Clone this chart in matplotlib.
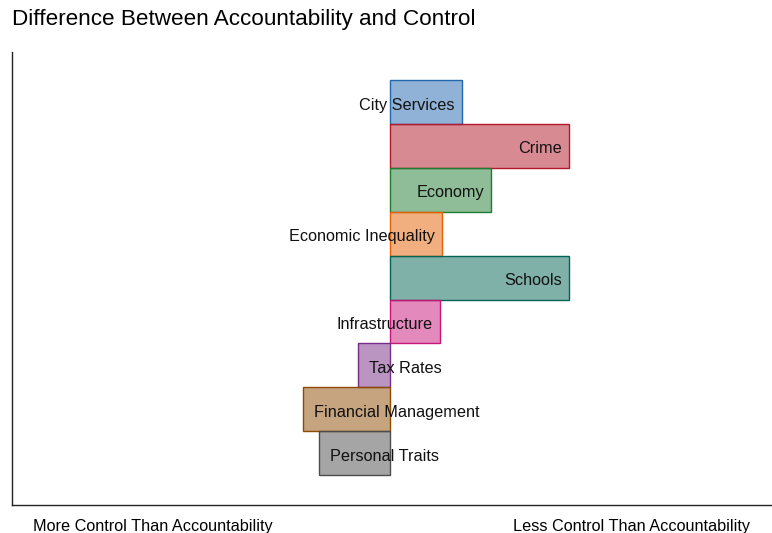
import matplotlib.pyplot as plt

# Data (1 unit = half the axis width)
topics = ['City Services', 'Crime', 'Economy', 'Economic Inequality', 'Schools',
          'Infrastructure', 'Tax Rates', 'Financial Management', 'Personal Traits']
difference = [0.19, 0.474, 0.267, 0.138, 0.474, 0.132, -0.085, -0.23, -0.188]
edge_colors = ['#2367AF', '#B31729', '#1F7D31', '#E56101', '#006555',
               '#C91579', '#772D87', '#8D4B00', '#4D4D4D']
left_label = 'More Control Than Accountability'
right_label = 'Less Control Than Accountability'
title = 'Difference Between Accountability and Control'


def main():
    plt.rcParams['font.family'] = ['Liberation Sans', 'DejaVu Sans']
    fig = plt.figure(figsize=(7.72, 5.33), dpi=100)
    ax = fig.add_axes([12 / 772, 28 / 533, 760 / 772, 453 / 533])

    ypos = list(range(len(topics)))
    for y, val, col in zip(ypos, difference, edge_colors):
        ax.barh(y, val, height=1.0, color=col, alpha=0.5, linewidth=0)
        ax.barh(y, val, height=1.0, facecolor='none', edgecolor=col, linewidth=1.0)
        if val >= 0:
            ax.annotate(topics[y], (val, y), xytext=(-5, -2.2), textcoords='offset points',
                        ha='right', va='center', fontsize=11.7, color='#111111')
        else:
            ax.annotate(topics[y], (val, y), xytext=(8, -2.2), textcoords='offset points',
                        ha='left', va='center', fontsize=11.7, color='#111111')

    ax.set_xlim(-1, 382 / 378)
    ax.set_ylim(9.18, -1.14)
    ax.set_xticks([])
    ax.set_yticks([])
    for side in ['top', 'right']:
        ax.spines[side].set_visible(False)
    for side in ['left', 'bottom']:
        ax.spines[side].set_color('#222222')
        ax.spines[side].set_linewidth(1.0)

    fig.text(12 / 772, 1 - 20 / 533, title, fontsize=16.2, ha='left', va='center')
    fig.text(33 / 772, 1 - 527 / 533, left_label, fontsize=11.7, ha='left', va='center')
    fig.text(750 / 772, 1 - 527 / 533, right_label, fontsize=11.7, ha='right', va='center')

    fig.savefig('out.png', dpi=100)


if __name__ == "__main__":
    main()
